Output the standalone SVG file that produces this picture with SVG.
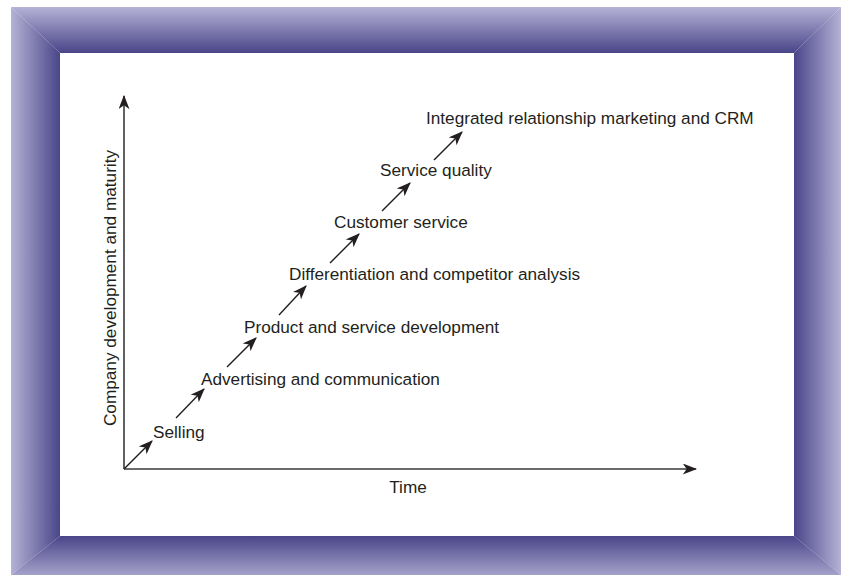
<svg xmlns="http://www.w3.org/2000/svg" width="841" height="575" viewBox="0 0 841 575">
<defs>
<linearGradient id="gTop" x1="0" y1="7" x2="0" y2="53" gradientUnits="userSpaceOnUse"><stop offset="0" stop-color="#b5b2d6"/><stop offset="1" stop-color="#4a4589"/></linearGradient>
<linearGradient id="gBot" x1="0" y1="536" x2="0" y2="582" gradientUnits="userSpaceOnUse"><stop offset="0" stop-color="#4a4589"/><stop offset="1" stop-color="#b5b2d6"/></linearGradient>
<linearGradient id="gLeft" x1="11" y1="0" x2="60" y2="0" gradientUnits="userSpaceOnUse"><stop offset="0" stop-color="#b5b2d6"/><stop offset="1" stop-color="#4a4589"/></linearGradient>
<linearGradient id="gRight" x1="794" y1="0" x2="841" y2="0" gradientUnits="userSpaceOnUse"><stop offset="0" stop-color="#4a4589"/><stop offset="1" stop-color="#b5b2d6"/></linearGradient>
<marker id="ah" markerUnits="userSpaceOnUse" markerWidth="15" markerHeight="11" refX="12" refY="5" orient="auto" viewBox="0 0 13 10">
<path d="M0,0 L13,5 L0,10 L3.5,5 Z" fill="#231f20"/>
</marker>
<marker id="ax" markerUnits="userSpaceOnUse" markerWidth="15" markerHeight="11" refX="12" refY="5" orient="auto" viewBox="0 0 13 10">
<path d="M0,0 L13,5 L0,10 L3.5,5 Z" fill="#231f20"/>
</marker>
</defs>
<style>
.lbl{font-family:"Liberation Sans",Arial,sans-serif;font-size:17.2px;fill:#231f20}
.arr{stroke:#231f20;stroke-width:1.4;fill:none;marker-end:url(#ah)}
.axis{stroke:#3a3a3a;stroke-width:1.6;fill:none;marker-end:url(#ax)}
</style>
<rect x="0" y="0" width="841" height="575" fill="#ffffff"/>
<g id="frame">
<polygon points="11,7 841,7 794,53 60,53" fill="url(#gTop)"/>
<polygon points="11,7 60,53 60,536 11,575" fill="url(#gLeft)"/>
<polygon points="841,7 841,575 794,536 794,53" fill="url(#gRight)"/>
<polygon points="60,536 794,536 841,575 11,575" fill="url(#gBot)"/>
<rect x="60" y="53" width="734" height="483" fill="#ffffff"/>
</g>
<g id="axes">
<line class="axis" x1="124" y1="469" x2="124" y2="96"/>
<line class="axis" x1="124" y1="469" x2="696" y2="469"/>
<text id="y-label" class="lbl" transform="translate(116,288) rotate(-90)" text-anchor="middle">Company development and maturity</text>
<text id="x-label" class="lbl" x="408" y="493" text-anchor="middle">Time</text>
</g>
<g id="connectors">
<line class="arr" x1="124" y1="469" x2="152" y2="441"/>
<line class="arr" x1="176" y1="418" x2="204" y2="389"/>
<line class="arr" x1="227" y1="367" x2="256" y2="338"/>
<line class="arr" x1="279" y1="315" x2="306" y2="286"/>
<line class="arr" x1="330" y1="263" x2="359" y2="234"/>
<line class="arr" x1="382" y1="211" x2="410" y2="183"/>
<line class="arr" x1="434" y1="160" x2="462" y2="132"/>
</g>
<g id="n1"><text class="lbl" x="153" y="438">Selling</text></g>
<g id="n2"><text class="lbl" x="201" y="385">Advertising and communication</text></g>
<g id="n3"><text class="lbl" x="244" y="333">Product and service development</text></g>
<g id="n4"><text class="lbl" x="289" y="280">Differentiation and competitor analysis</text></g>
<g id="n5"><text class="lbl" x="334" y="228">Customer service</text></g>
<g id="n6"><text class="lbl" x="380" y="176">Service quality</text></g>
<g id="n7"><text class="lbl" x="426" y="124">Integrated relationship marketing and CRM</text></g>
</svg>
